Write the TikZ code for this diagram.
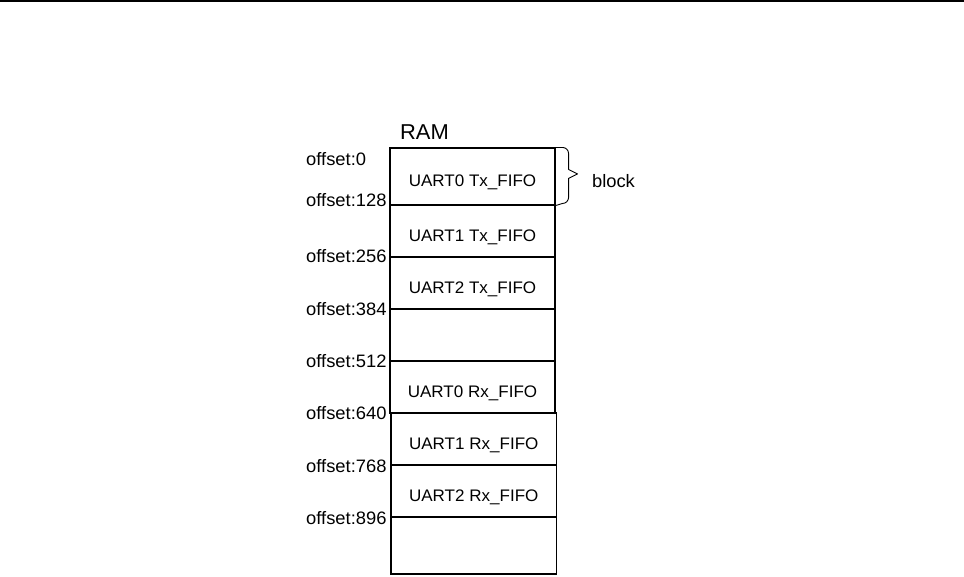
\documentclass[tikz,border=0pt]{standalone}
\usepackage{fontspec}
\setmainfont[FakeStretch=1.02]{Liberation Sans}
\begin{document}
\begin{tikzpicture}[x=1pt,y=-1pt,
  cell/.style={draw=black,line width=1.1pt,rectangle,inner sep=0pt,
    minimum width=165pt,text height=20pt,text depth=0pt,
    font=\fontsize{16.7}{18}\selectfont},
  offlabel/.style={anchor=west,inner sep=0pt,text depth=0pt,
    font=\fontsize{18}{19}\selectfont},
  bracepath/.style={line width=0.9pt,line join=round}]
\useasboundingbox (0,0) rectangle (964,576);
\draw[line width=1.7pt] (0,0.85) -- (964,0.85);
% memory cells
\node[cell,minimum height=57pt] (r0) at (472.5,176.5) {UART0 Tx\_FIFO};
\node[cell,minimum height=52pt] (r1) at (472.5,231) {UART1 Tx\_FIFO};
\node[cell,minimum height=52pt] (r2) at (472.5,283) {UART2 Tx\_FIFO};
\node[cell,minimum height=52pt] (r3) at (472.5,335) {};
\node[cell,minimum height=52pt] (r4) at (472.5,387) {UART0 Rx\_FIFO};
\node[cell,minimum height=52pt,minimum width=165.5pt] (r5) at (473.75,439) {UART1 Rx\_FIFO};
\node[cell,minimum height=52pt,minimum width=165.5pt] (r6) at (473.75,491) {UART2 Rx\_FIFO};
\node[cell,minimum height=57pt,minimum width=165.5pt] (r7) at (473.75,545.5) {};
% title
\node[inner sep=0pt,font=\fontsize{21.5}{23}\selectfont] (ram) at (424.5,132) {RAM};
% offset labels
\node[offlabel] (o0) at (306,159) {offset:0};
\node[offlabel] (o1) at (306,200) {offset:128};
\node[offlabel] (o2) at (306,256) {offset:256};
\node[offlabel] (o3) at (306,309) {offset:384};
\node[offlabel] (o4) at (306,361) {offset:512};
\node[offlabel] (o5) at (306,413) {offset:640};
\node[offlabel] (o6) at (306,466) {offset:768};
\node[offlabel] (o7) at (306,518) {offset:896};
% brace
\coordinate (bt) at (r0.north east);
\coordinate (bb) at (r0.south east);
\draw[bracepath] (bt) -- ++(7,0) to[out=0,in=90] ++(6,6) -- ++(0,16)
  -- ++(9,4.5) -- ++(-9,4.5) -- ++(0,19) to[out=-90,in=0] ++(-6,6) -- (bb);
\node[inner sep=0pt,font=\fontsize{18}{19}\selectfont] (blk) at (613.5,181) {block};
\end{tikzpicture}
\end{document}
